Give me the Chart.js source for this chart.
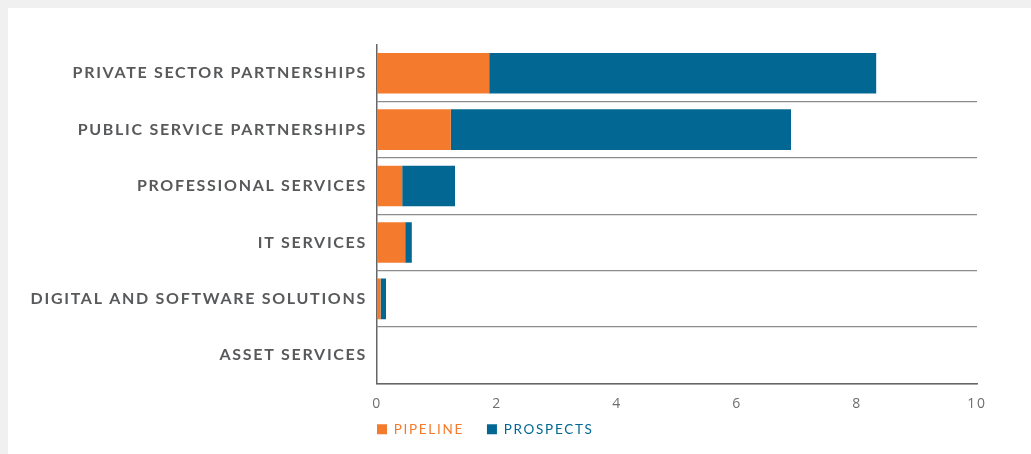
<!DOCTYPE html>
<html>
<head>
<meta charset="utf-8">
<script src="https://cdn.jsdelivr.net/npm/chart.js@4/dist/chart.umd.min.js"></script>
<style>
    html, body { margin: 0; padding: 0; background: #f0f0f0; }
    #panel { position: absolute; left: 8px; top: 8px; width: 1023px; height: 446px; background: #fff; }
</style>
</head>
<body>
<div id="panel"><canvas id="pipelineChart"></canvas></div>
<script>
    const categories = ['PRIVATE SECTOR PARTNERSHIPS', 'PUBLIC SERVICE PARTNERSHIPS', 'PROFESSIONAL SERVICES',
        'IT SERVICES', 'DIGITAL AND SOFTWARE SOLUTIONS', 'ASSET SERVICES'];
    const pipeline = [1.87, 1.23, 0.42, 0.47, 0.06, 0];
    const prospects = [6.45, 5.67, 0.88, 0.11, 0.09, 0];
    const xTicks = [0, 2, 4, 6, 8, 10];

    const orange = '#f47b2e';
    const blue = '#026893';
    const legendPadding = 23;

    // spaced-out caps like the print version
    const letterSpacing = {
        id: 'letterSpacing',
        beforeLayout(chart) { chart.ctx.letterSpacing = '1.7px'; },
        beforeDraw(chart) { chart.ctx.letterSpacing = '1.7px'; }
    };

    // legend starts right at the axis, and x tick labels may hang below the slim axis box
    const layoutTweaks = {
        id: 'layoutTweaks',
        afterLayout(chart) {
            chart.legend.left -= legendPadding;
            chart.legend.right -= legendPadding;
            chart.scales.x.bottom += 30;
        }
    };

    new Chart(document.getElementById('pipelineChart'), {
        type: 'bar',
        data: {
            labels: categories,
            datasets: [
                { label: 'PIPELINE', data: pipeline, backgroundColor: orange },
                { label: 'PROSPECTS', data: prospects, backgroundColor: blue }
            ]
        },
        options: {
            indexAxis: 'y',
            responsive: true,
            maintainAspectRatio: false,
            animation: false,
            categoryPercentage: 1,
            barPercentage: 0.72,
            layout: { padding: { top: 37, right: 54, bottom: 8, left: 0 } },
            scales: {
                x: {
                    stacked: true,
                    min: 0,
                    max: 10,
                    afterBuildTicks: scale => { scale.ticks = xTicks.map(v => ({ value: v })); },
                    grid: { display: false },
                    border: { color: '#666', width: 1.5 },
                    ticks: {
                        color: '#6d6e70',
                        padding: 4,
                        font: { family: 'Open Sans', size: 14 }
                    },
                    afterFit: scale => { scale.height = 16; }
                },
                y: {
                    stacked: true,
                    grid: {
                        offset: true,
                        drawTicks: false,
                        color: ctx => ctx.index === 0 ? 'rgba(0,0,0,0)' : '#8c8c8c',
                        lineWidth: 1.2
                    },
                    border: { color: '#666', width: 1.5 },
                    ticks: {
                        color: '#58595b',
                        padding: 10,
                        font: { family: 'Lato', size: 16, weight: 'bold' }
                    },
                    afterFit: scale => { scale.width = 369; }
                }
            },
            plugins: {
                tooltip: { enabled: false },
                legend: {
                    position: 'bottom',
                    align: 'start',
                    fullSize: false,
                    labels: {
                        boxWidth: 10,
                        boxHeight: 10,
                        padding: legendPadding,
                        font: { family: 'Lato', size: 13.5 },
                        generateLabels: chart => chart.data.datasets.map((ds, i) => ({
                            text: ds.label,
                            fillStyle: ds.backgroundColor,
                            strokeStyle: ds.backgroundColor,
                            lineWidth: 0,
                            fontColor: ds.backgroundColor,
                            datasetIndex: i
                        }))
                    }
                }
            }
        },
        plugins: [letterSpacing, layoutTweaks]
    });
</script>
</body>
</html>
